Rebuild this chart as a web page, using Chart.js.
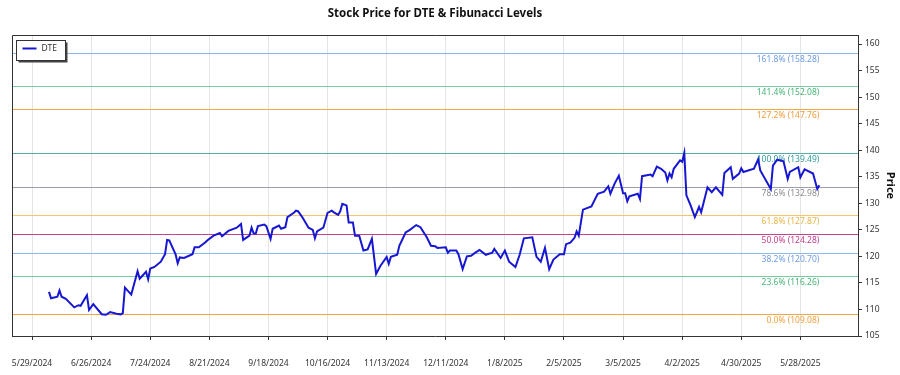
<!DOCTYPE html>
<html><head><meta charset="utf-8">
<script src="https://cdn.jsdelivr.net/npm/chart.js@4.4.1/dist/chart.umd.min.js"></script>
<style>html,body{margin:0;padding:0;background:#fff}#wrap{width:900px;height:375px}</style>
</head><body><div id="wrap"><canvas id="c" width="900" height="375"></canvas></div>
<script>
const chartTitle = 'Stock Price for DTE & Fibunacci Levels';
const seriesName = 'DTE';
const axisTitle = 'Price';

const dates = [
'2024-06-06','2024-06-07','2024-06-10','2024-06-11','2024-06-12','2024-06-14','2024-06-18','2024-06-20','2024-06-21','2024-06-24',
'2024-06-25','2024-06-27','2024-07-01','2024-07-03','2024-07-05','2024-07-08','2024-07-10','2024-07-11','2024-07-12','2024-07-15',
'2024-07-18','2024-07-19','2024-07-22','2024-07-23','2024-07-24','2024-07-26','2024-07-29','2024-07-31','2024-08-01','2024-08-02',
'2024-08-05','2024-08-06','2024-08-07','2024-08-09','2024-08-13','2024-08-14','2024-08-16','2024-08-19','2024-08-20','2024-08-23',
'2024-08-26','2024-08-27','2024-08-30','2024-09-03','2024-09-05','2024-09-06','2024-09-09','2024-09-10','2024-09-11','2024-09-12',
'2024-09-13','2024-09-16','2024-09-17','2024-09-19','2024-09-20','2024-09-23','2024-09-24','2024-09-26','2024-09-27','2024-09-30',
'2024-10-01','2024-10-02','2024-10-04','2024-10-07','2024-10-09','2024-10-10','2024-10-11','2024-10-14','2024-10-16','2024-10-18',
'2024-10-19','2024-10-21','2024-10-22','2024-10-23','2024-10-25','2024-10-26','2024-10-28','2024-10-29','2024-10-31','2024-11-02',
'2024-11-04','2024-11-06','2024-11-08','2024-11-10','2024-11-13','2024-11-14','2024-11-15','2024-11-18','2024-11-19','2024-11-22',
'2024-11-24','2024-11-27','2024-11-29','2024-12-02','2024-12-04','2024-12-06','2024-12-07','2024-12-11','2024-12-12','2024-12-13',
'2024-12-16','2024-12-17','2024-12-19','2024-12-21','2024-12-23','2024-12-25','2024-12-27','2024-12-30','2025-01-02','2025-01-03',
'2025-01-06','2025-01-08','2025-01-10','2025-01-13','2025-01-15','2025-01-17','2025-01-21','2025-01-23','2025-01-25','2025-01-27',
'2025-01-29','2025-01-31','2025-02-03','2025-02-05','2025-02-06','2025-02-08','2025-02-10','2025-02-11','2025-02-12','2025-02-14',
'2025-02-18','2025-02-21','2025-02-24','2025-02-26','2025-02-27','2025-03-01','2025-03-03','2025-03-05','2025-03-06','2025-03-07',
'2025-03-08','2025-03-12','2025-03-13','2025-03-14','2025-03-18','2025-03-19','2025-03-21','2025-03-23','2025-03-25','2025-03-26',
'2025-03-27','2025-03-28','2025-03-29','2025-04-01','2025-04-02','2025-04-03','2025-04-04','2025-04-06','2025-04-08','2025-04-10',
'2025-04-11','2025-04-14','2025-04-16','2025-04-18','2025-04-21','2025-04-22','2025-04-25','2025-04-26','2025-04-29','2025-04-30',
'2025-05-01','2025-05-06','2025-05-08','2025-05-09','2025-05-14','2025-05-15','2025-05-17','2025-05-20','2025-05-22','2025-05-23',
'2025-05-27','2025-05-28','2025-05-30','2025-06-03','2025-06-05','2025-06-06'
];
const prices = [
113.3,112.1,112.4,113.6,112.4,112.0,110.4,110.8,110.7,112.7,
109.9,111.0,109.1,109.0,109.5,109.2,109.08,109.3,114.1,112.8,
117.2,115.8,117.1,115.7,117.7,118.0,119.0,120.4,123.1,123.0,
120.4,118.7,119.8,119.7,120.4,121.7,121.7,122.6,123.0,123.9,
124.4,123.8,124.8,125.4,126.1,123.1,123.9,125.4,124.3,124.3,
125.7,126.0,125.7,123.3,125.2,125.8,125.2,125.5,127.4,128.2,
128.6,128.5,127.4,125.4,125.0,123.4,124.7,125.4,128.2,128.6,
128.3,127.8,128.5,129.9,129.6,126.4,126.4,123.9,123.9,121.1,
121.3,123.3,116.7,118.2,119.9,118.6,119.9,120.3,122.0,124.5,
125.0,125.9,125.5,123.6,122.0,121.9,121.6,121.7,120.7,121.1,
121.1,120.4,117.6,120.0,120.1,120.7,121.2,120.3,120.7,121.4,
119.7,121.1,119.0,118.0,120.3,123.4,123.6,119.9,119.0,121.6,
117.6,119.4,120.4,120.4,122.3,122.6,123.5,124.7,123.9,128.8,
129.4,131.8,132.2,133.2,131.8,133.7,135.2,131.9,131.9,130.4,
131.3,131.8,130.8,135.1,135.4,135.1,136.9,136.5,135.8,134.3,
135.6,134.9,136.5,138.1,137.8,139.49,131.5,129.6,127.4,129.3,
128.3,133.0,132.1,133.0,131.6,135.7,136.8,134.6,135.6,136.6,
135.9,136.5,138.3,136.2,132.7,137.1,138.2,137.9,134.6,135.9,
136.8,134.9,136.4,135.6,132.7,133.4
];

const fibLabels = ['0.0%','23.6%','38.2%','50.0%','61.8%','78.6%','100.0%','127.2%','141.4%','161.8%'];
const fibValues = [109.08,116.26,120.70,124.28,127.87,132.98,139.49,147.76,152.08,158.28];
const fibLineColors = ['#f3a646','#72cf9c','#8fb8ec','#c4458d','#f3c66e','#9d9dad','#56abab','#f4a84c','#72cf9c','#8fb3e6'];
const fibTextColors = ['#f0a040','#49b377','#6d9de2','#c23f8a','#e9b446','#8d8d8d','#319b9b','#f09d3a','#49b377','#6d9de2'];

const xTickDates = ['2024-05-29','2024-06-26','2024-07-24','2024-08-21','2024-09-18','2024-10-16','2024-11-13','2024-12-11',
  '2025-01-08','2025-02-05','2025-03-05','2025-04-02','2025-04-30','2025-05-28'];
const yMajorTicks = [105,110,115,120,125,130,135,140,145,150,155,160];

const BASE = Date.UTC(2024,4,29);
function dayNum(s){const p=s.split('-').map(Number);return (Date.UTC(p[0],p[1]-1,p[2])-BASE)/864e5;}
function fmtDay(v){const dt=new Date(BASE+v*864e5);return (dt.getUTCMonth()+1)+'/'+dt.getUTCDate()+'/'+dt.getUTCFullYear();}

const FONT = "'Noto Sans', 'Open Sans', sans-serif";

const framePlugin = {
  id:'frame',
  beforeDatasetsDraw(chart){
    const {ctx, chartArea:a, scales} = chart;
    const y = scales.y, x = scales.x;
    ctx.save();
    fibValues.forEach((v,i)=>{
      const py = Math.round(y.getPixelForValue(v))+0.5;
      ctx.strokeStyle = fibLineColors[i];
      ctx.lineWidth = 1.2;
      ctx.beginPath(); ctx.moveTo(a.left,py); ctx.lineTo(a.right,py); ctx.stroke();
    });
    const lx = x.getPixelForValue(dayNum(dates[dates.length-1]));
    ctx.font = '8.5px ' + FONT;
    ctx.textAlign = 'right'; ctx.textBaseline = 'middle';
    fibValues.forEach((v,i)=>{
      const py = y.getPixelForValue(v);
      ctx.fillStyle = fibTextColors[i];
      ctx.fillText(fibLabels[i] + ' (' + v.toFixed(2) + ')', lx, py + 6.5);
    });
    ctx.strokeStyle = '#333'; ctx.lineWidth = 1;
    ctx.beginPath();
    ctx.moveTo(Math.round(a.left)+0.5, a.bottom); ctx.lineTo(Math.round(a.left)+0.5, Math.round(a.top)+0.5);
    ctx.lineTo(a.right, Math.round(a.top)+0.5);
    ctx.stroke();
    ctx.restore();
  },
  afterDraw(chart){
    const {ctx, chartArea:a} = chart;
    ctx.save();
    ctx.font = 'bold 11.5px ' + FONT;
    ctx.fillStyle = '#111';
    ctx.textAlign = 'center'; ctx.textBaseline = 'middle';
    ctx.fillText(chartTitle, (a.left + a.right)/2, 14);
    const bx = 16.5, by = 40.5, bw = 49, bh = 20;
    ctx.fillStyle = '#444';
    ctx.fillRect(bx+2, by+2, bw, bh);
    ctx.fillStyle = '#fff';
    ctx.fillRect(bx, by, bw, bh);
    ctx.strokeStyle = '#333'; ctx.lineWidth = 1;
    ctx.strokeRect(bx, by, bw, bh);
    const ds = chart.data.datasets[0];
    ctx.strokeStyle = ds.borderColor; ctx.lineWidth = 2;
    ctx.beginPath(); ctx.moveTo(bx+6, by+8); ctx.lineTo(bx+20, by+8); ctx.stroke();
    ctx.font = '8.5px ' + FONT; ctx.fillStyle = '#333';
    ctx.textAlign = 'left'; ctx.textBaseline = 'middle';
    ctx.fillText(ds.label, bx+25, by+8);
    ctx.restore();
  }
};

new Chart(document.getElementById('c'), {
  type:'line',
  data:{datasets:[{
    label: seriesName,
    data: dates.map((d,i)=>({x:dayNum(d), y:prices[i]})),
    borderColor:'#1717d2', borderWidth:2, pointRadius:0, tension:0, fill:false, yAxisID:'y'
  }]},
  options:{
    responsive:false, animation:false, devicePixelRatio:1,
    layout:{padding:{left:12, top:35, right:0, bottom:0}},
    plugins:{legend:{display:false}, title:{display:false}, tooltip:{enabled:false}},
    scales:{
      x:{type:'linear', min:-9.5, max:391.3,
        afterBuildTicks:s=>{s.ticks = xTickDates.map(d=>({value:dayNum(d)}));},
        ticks:{callback:v=>fmtDay(v), font:{family:FONT, size:8.5}, color:'#333', padding:18, maxRotation:0, autoSkip:false},
        grid:{color:'#e4e4e4', tickColor:'#333', tickLength:4},
        border:{display:true, color:'#333'},
        afterFit:s=>{s.height = 39; s.paddingLeft = 0; s.paddingRight = 0;}
      },
      y:{position:'right', min:105, max:161.7,
        afterBuildTicks:s=>{s.ticks = yMajorTicks.map(v=>({value:v}));},
        ticks:{font:{family:FONT, size:8.5}, color:'#333', padding:3},
        grid:{drawOnChartArea:false, tickLength:4, tickColor:'#333'},
        border:{display:true, color:'#333'},
        title:{display:true, text:axisTitle, color:'#111', font:{family:FONT, size:11, weight:'bold'}, padding:{top:3, bottom:0}},
        afterFit:s=>{s.width = 42; s.paddingTop = 0; s.paddingBottom = 0;}
      },
      y2:{position:'right', min:105, max:161.7,
        ticks:{display:false, stepSize:1},
        grid:{drawOnChartArea:false, tickLength:2, tickColor:'#444'},
        border:{display:false},
        afterFit:s=>{s.width = 0; s.paddingTop = 0; s.paddingBottom = 0;}
      }
    }
  },
  plugins:[framePlugin]
});
</script></body></html>
